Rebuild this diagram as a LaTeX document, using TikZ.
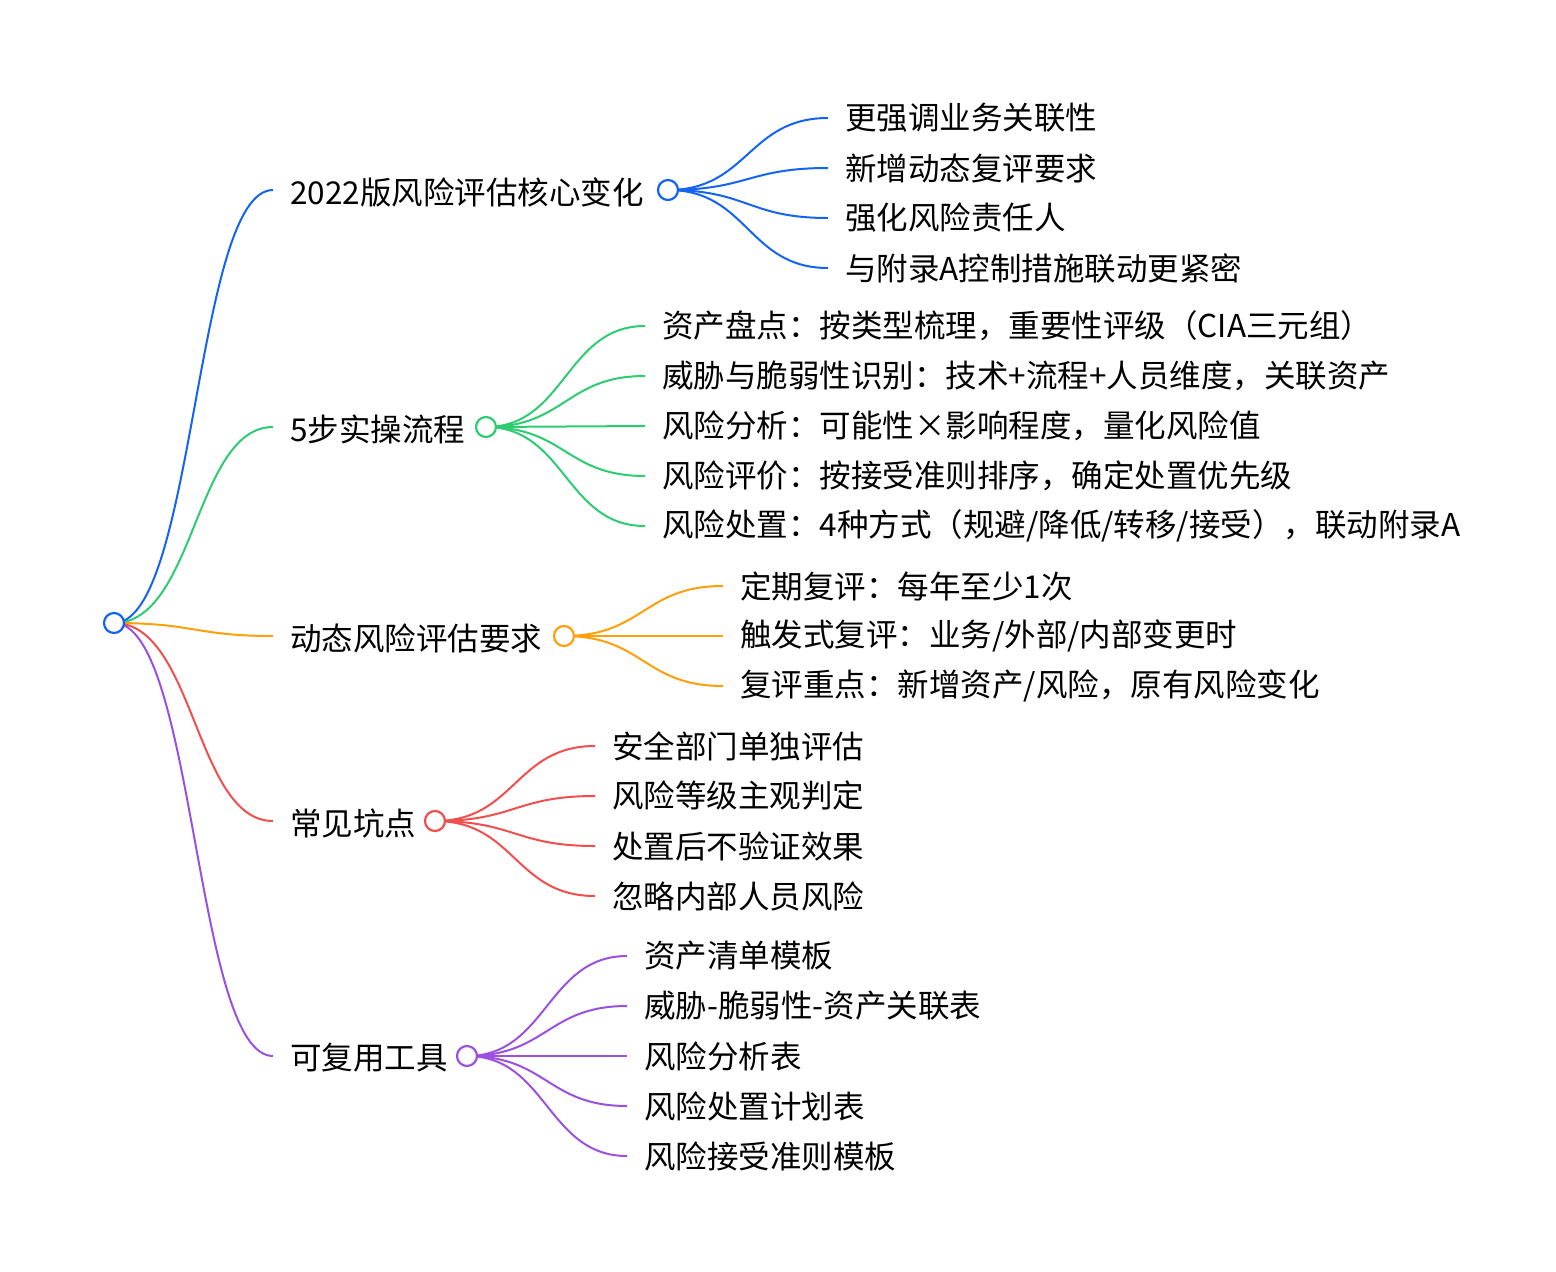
\documentclass[tikz,border=0pt]{standalone}
\usepackage{fontspec}
\setmainfont{Noto Sans CJK SC}
\newcommand{\myslash}{/}
\begin{document}
\begin{tikzpicture}[x=1pt,y=-1pt,
  lbl/.style={anchor=west,inner sep=0pt,font=\fontsize{31.5}{34}\selectfont},
  dot/.style={circle,draw=#1,line width=2.2pt,fill=white,minimum size=20pt,inner sep=0pt},
  ln/.style={line width=2pt}]
\useasboundingbox (0,0) rectangle (1556,1272);
\definecolor{cb}{HTML}{1463F3}\definecolor{cg}{HTML}{2ECC71}\definecolor{co}{HTML}{FF9F0A}
\definecolor{cr}{HTML}{F24E4E}\definecolor{cp}{HTML}{9B51E0}
\coordinate (e1) at (273,190);\coordinate (e2) at (273,427);\coordinate (e3) at (273,636);
\coordinate (e4) at (273,821);\coordinate (e5) at (273,1056);
\node[lbl] (b1) at (290,192) {2022版风险评估核心变化};
\node[lbl] (b2) at (290,429) {5步实操流程};
\node[lbl] (b3) at (290,638) {动态风险评估要求};
\node[lbl] (b4) at (290,823) {常见坑点};
\node[lbl] (b5) at (290,1058) {可复用工具};
\draw[ln,cb] (114,623) .. controls (195,623) and (195,190) .. (e1);
\draw[ln,cg] (114,623) .. controls (195,623) and (195,427) .. (e2);
\draw[ln,co] (114,623) .. controls (195,623) and (195,636) .. (e3);
\draw[ln,cr] (114,623) .. controls (195,623) and (195,821) .. (e4);
\draw[ln,cp] (114,623) .. controls (195,623) and (195,1056) .. (e5);
\node[dot=cb] (root) at (114,623) {};
\newcommand{\kids}[6]{%
  \foreach \yy/\tt [count=\i] in {#5} {
    \coordinate (#6k\i) at (#4,\yy);
    \draw[ln,#1] (#2,#3) .. controls ({(#2+#4)/2},#3) and ({(#2+#4)/2},\yy) .. (#6k\i);
    \node[lbl] (#6t\i) at (#4+17,\yy) {\tt};
  }
  \node[dot=#1] (#6c) at (#2,#3) {};
}
\kids{cb}{668}{190}{828}{118/更强调业务关联性,168/新增动态复评要求,218/强化风险责任人,268/与附录A控制措施联动更紧密}{a}
\kids{cg}{486}{427}{645}{326/资产盘点：按类型梳理，重要性评级（CIA三元组）,376/威胁与脆弱性识别：技术+流程+人员维度，关联资产,426/风险分析：可能性×影响程度，量化风险值,476/风险评价：按接受准则排序，确定处置优先级,526/风险处置：4种方式（规避\myslash 降低\myslash 转移\myslash 接受），联动附录A}{b}
\kids{co}{564}{636}{723}{586/定期复评：每年至少1次,636/触发式复评：业务\myslash 外部\myslash 内部变更时,686/复评重点：新增资产\myslash 风险，原有风险变化}{c}
\kids{cr}{435}{821}{595}{746/安全部门单独评估,796/风险等级主观判定,846/处置后不验证效果,896/忽略内部人员风险}{d}
\kids{cp}{467}{1056}{627}{956/资产清单模板,1006/威胁-脆弱性-资产关联表,1056/风险分析表,1106/风险处置计划表,1156/风险接受准则模板}{e}
\end{tikzpicture}
\end{document}
